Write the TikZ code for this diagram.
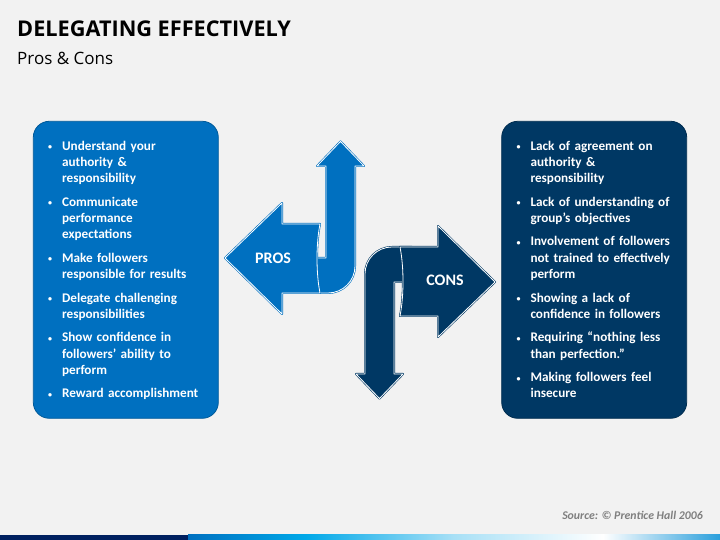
\documentclass[tikz,border=0pt]{standalone}
\usepackage{fontspec}
\setmainfont{Carlito}
\newfontfamily\headfont{Open Sans}
\usetikzlibrary{positioning}
\definecolor{bggray}{HTML}{F2F2F2}
\definecolor{problue}{HTML}{0070C0}
\definecolor{connavy}{HTML}{003864}
\definecolor{barnavy}{HTML}{002060}
\definecolor{barcyan}{HTML}{00A8E8}
\definecolor{barpale}{HTML}{A8E0F6}
\definecolor{barend}{HTML}{2A9FDC}
\definecolor{srcgray}{HTML}{7F7F7F}
\pgfdeclarehorizontalshading{barshade}{100bp}{color(0bp)=(problue); color(25bp)=(problue); color(36bp)=(barcyan); color(50bp)=(barpale); color(64bp)=(white); color(75bp)=(barend); color(100bp)=(barend)}
\newcommand{\bul}[1]{\par\hangindent=14pt\hangafter=1\noindent\makebox[14pt][l]{\raisebox{.5pt}{\footnotesize\textbullet}}#1\par}
% one turning arrow and its side arrow, in the frame of the PROS half
\newcommand{\turnpair}[1]{%
  \draw[arrowpart=#1] (308,247) -- (328,247) arc[start angle=-90,end angle=0,radius=27]
     -- (355,374) -- (364,374) -- (340.5,398.5) -- (317,374) -- (326,374) -- (326,282) -- (308,282) -- cycle;
  \draw[arrowpart=#1] (225,282) -- (282,337) -- (282,316) -- (320,316)
     .. controls (316,296) and (316,267) .. (320,247) -- (282,247) -- (282,226) -- cycle;}
\tikzset{
  arrowpart/.style={fill=#1,draw=#1,double=white,double distance=.8pt,line width=.6pt,line join=round},
  listbox/.style={rounded corners=16pt,fill=#1,draw=#1!80!black,line width=.8pt,minimum width=185pt,minimum height=297pt,inner sep=0pt},
  listtext/.style={text=white,inner sep=0pt,text width=172pt,font=\bfseries\fontsize{13.2}{16.3}\selectfont},
  arrowlabel/.style={text=white,font=\bfseries\fontsize{16}{18}\selectfont}
}
\begin{document}
\begin{tikzpicture}[x=1pt,y=1pt]
  \useasboundingbox (0,0) rectangle (720,540);
  \fill[bggray] (0,0) rectangle (720,540);

  \node[anchor=base west,inner sep=0pt] (title) at (17,503) {\headfont\bfseries\fontsize{21.7}{25}\selectfont DELEGATING EFFECTIVELY};
  \node[anchor=base west,inner sep=0pt] (subtitle) at (17,475) {\headfont\fontsize{17}{20}\selectfont Pros \& Cons};

  \node[listbox=problue] (prosbox) at (125.8,270.2) {};
  \node[listbox=connavy] (consbox) at (594.2,270.2) {};

  \node[listtext,below right=5.5pt and 15pt of prosbox.north west] (proslist) {\raggedright\setlength{\parskip}{7.2pt}%
    \bul{Understand your\newline authority \&\newline responsibility}
    \bul{Communicate\newline performance\newline expectations}
    \bul{Make followers\newline responsible for results}
    \bul{Delegate challenging\newline responsibilities}
    \bul{Show confidence in\newline followers’ ability to\newline perform}
    \bul{Reward accomplishment}};
  \node[listtext,below right=5.5pt and 15pt of consbox.north west] (conslist) {\raggedright\setlength{\parskip}{7.2pt}%
    \bul{Lack of agreement on\newline authority \&\newline responsibility}
    \bul{Lack of understanding of\newline group’s objectives}
    \bul{Involvement of followers\newline not trained to effectively\newline perform}
    \bul{Showing a lack of\newline confidence in followers}
    \bul{Requiring “nothing less\newline than perfection.”}
    \bul{Making followers feel\newline insecure}};

  \turnpair{problue}
  \begin{scope}[rotate around={180:(360,270)}]
    \turnpair{connavy}
  \end{scope}
  \node[arrowlabel] (pros) at (273,282) {PROS};
  \node[arrowlabel] (cons) at (445,260) {CONS};

  \node[anchor=base east,inner sep=0pt,text=srcgray] (source) at (703,20.7) {\bfseries\itshape\fontsize{11.8}{14}\selectfont Source: © Prentice Hall 2006};
  \fill[barnavy] (0,0) rectangle (188,5);
  \shade[shading=barshade] (188,0) rectangle (720,5);
\end{tikzpicture}
\end{document}
